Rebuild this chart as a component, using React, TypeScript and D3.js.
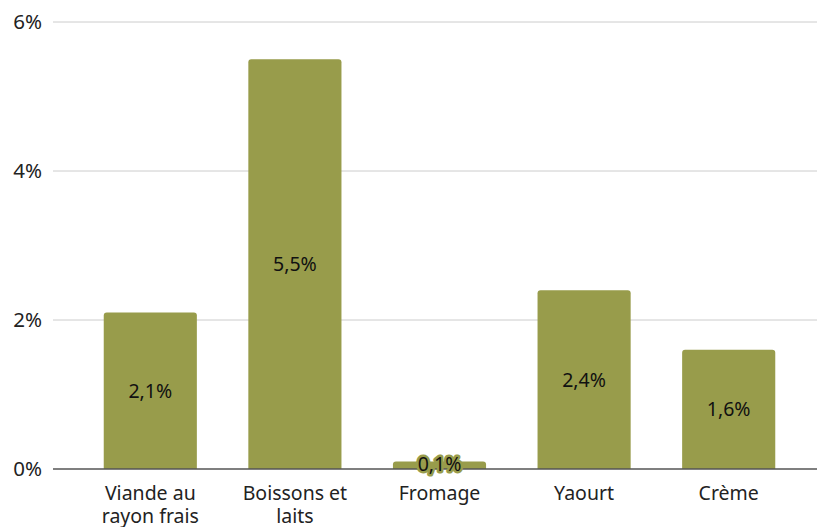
import React, { useRef, useEffect } from "react";
import * as d3 from "d3";

const categories = [["Viande au", "rayon frais"], ["Boissons et", "laits"], ["Fromage"], ["Yaourt"], ["Crème"]];
const values = [2.1, 5.5, 0.1, 2.4, 1.6];
const yTicks = [0, 2, 4, 6];

const W = 817;
const H = 527;
const BAR = "#989c4b";

function BarChart() {
  const svgRef = useRef<SVGSVGElement>(null);

  useEffect(() => {
    const svg = d3.select(svgRef.current);
    svg.selectAll("*").remove();

    const font = "'Noto Sans', sans-serif";
    const x = d3.scaleBand<number>()
      .domain(values.map((_, i) => i))
      .range([78, 801])
      .paddingInner(0.356)
      .paddingOuter(0.178);
    const y = d3.scaleLinear().domain([0, 6]).range([469, 22]);

    // gridlines
    svg.append("g").selectAll("line").data(yTicks.filter(t => t > 0)).enter()
      .append("line")
      .attr("x1", 53).attr("x2", W)
      .attr("y1", d => y(d)).attr("y2", d => y(d))
      .attr("stroke", "#cccccc").attr("stroke-width", 1);

    // y labels
    svg.append("g").selectAll("text").data(yTicks).enter()
      .append("text")
      .attr("x", 42).attr("y", d => y(d))
      .attr("dy", "0.36em")
      .attr("text-anchor", "end")
      .attr("font-family", font).attr("font-size", 20.5)
      .attr("fill", "#222")
      .text(d => d + "%");

    // bars with rounded tops
    const r = 3;
    svg.append("g").selectAll("path").data(values).enter()
      .append("path")
      .attr("d", (d, i) => {
        const x0 = x(i)!;
        const x1 = x0 + x.bandwidth();
        const yt = y(d);
        const yb = y(0);
        const rr = Math.min(r, (yb - yt) / 2);
        return `M${x0},${yb}V${yt + rr}Q${x0},${yt} ${x0 + rr},${yt}H${x1 - rr}Q${x1},${yt} ${x1},${yt + rr}V${yb}Z`;
      })
      .attr("fill", BAR);

    // baseline
    svg.append("line")
      .attr("x1", 53).attr("x2", W)
      .attr("y1", y(0)).attr("y2", y(0))
      .attr("stroke", "#555").attr("stroke-width", 1.5);

    // value labels
    svg.append("g").selectAll("text").data(values).enter()
      .append("text")
      .attr("x", (d, i) => x(i)! + x.bandwidth() / 2)
      .attr("y", d => (y(d) + y(0)) / 2 + (d < 0.5 ? -1 : 0))
      .attr("dy", "0.36em")
      .attr("text-anchor", "middle")
      .attr("font-family", font).attr("font-size", 19.5)
      .attr("fill", "#111")
      .attr("stroke", BAR).attr("stroke-width", 5)
      .attr("paint-order", "stroke")
      .attr("stroke-linejoin", "round")
      .text(d => d.toFixed(1).replace(".", ",") + "%");

    // category labels
    const cat = svg.append("g").selectAll("text").data(categories).enter()
      .append("text")
      .attr("x", (d, i) => x(i)! + x.bandwidth() / 2)
      .attr("y", 500)
      .attr("text-anchor", "middle")
      .attr("font-family", font).attr("font-size", 19.5)
      .attr("fill", "#222");
    cat.selectAll("tspan").data(d => d).enter()
      .append("tspan")
      .attr("x", function () { return (this.parentNode as SVGTextElement).getAttribute("x"); })
      .attr("dy", (d, j) => (j === 0 ? 0 : 23))
      .text(d => d);
  }, []);

  return <svg ref={svgRef} width={W} height={H} style={{ position: "absolute", left: 0, top: 0 }} />;
}

export default function App() {
  return <BarChart />;
}
